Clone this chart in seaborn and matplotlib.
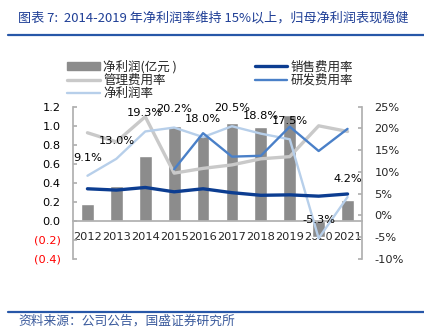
import numpy as np
import pandas as pd
import matplotlib
matplotlib.use("Agg")
import matplotlib.pyplot as plt
import seaborn as sns
from matplotlib.lines import Line2D

years = ["2012", "2013", "2014", "2015", "2016", "2017", "2018", "2019", "2020", "2021"]
net_profit = [0.18, 0.37, 0.68, 1.00, 0.89, 1.03, 0.99, 1.11, -0.17, 0.22]
mgmt_rate = [19.0, 16.9, 22.7, 9.7, 10.8, 11.6, 13.0, 13.5, 20.6, 19.3]
sales_rate = [6.1, 5.8, 6.4, 5.4, 6.1, 5.2, 4.6, 4.7, 4.4, 4.9]
rd_rate = [np.nan, np.nan, np.nan, 10.6, 18.9, 13.5, 13.7, 20.4, 14.8, 19.9]
net_margin = [9.1, 13.0, 19.3, 20.2, 18.0, 20.5, 18.8, 17.5, -5.3, 4.2]

left_ticks = [-0.4, -0.2, 0.0, 0.2, 0.4, 0.6, 0.8, 1.0, 1.2]
left_labels = ["(0.4)", "(0.2)", "0.0", "0.2", "0.4", "0.6", "0.8", "1.0", "1.2"]
right_ticks = [-10, -5, 0, 5, 10, 15, 20, 25]
right_labels = ["-10%", "-5%", "0%", "5%", "10%", "15%", "20%", "25%"]

title = "图表 7:  2014-2019 年净利润率维持 15%以上，归母净利润表现稳健"
source = "资料来源：公司公告，国盛证券研究所"
names = ["净利润(亿元 )", "管理费用率", "净利润率", "销售费用率", "研发费用率"]

sns.set_theme(style="white")
plt.rcParams["font.family"] = ["DejaVu Sans", "Noto Sans CJK SC"]

fig = plt.figure(figsize=(4.24, 3.35), dpi=100)
ax = fig.add_axes([73/424, 1-258.7/335, (362-73)/424, (258.7-106.7)/335])
ax2 = ax.twinx()

df = pd.DataFrame({"year": years, "np": net_profit, "mg": mgmt_rate, "sr": sales_rate,
                   "rd": rd_rate, "nm": net_margin})
df["pos"] = np.arange(len(years))

c_bar = "#8c8c8c"
c_mg = "#c9c9c9"
c_nm = "#b7cfea"
c_sr = "#0c3d91"
c_rd = "#4a80c8"

sns.barplot(data=df, x="year", y="np", ax=ax, color=c_bar, width=0.44, saturation=1)
ax.set_xlim(-0.5, len(years) - 0.5)
ax.set_ylim(-0.4, 1.2)

sns.lineplot(data=df, x="pos", y="mg", ax=ax2, color=c_mg, linewidth=2.4)
sns.lineplot(data=df, x="pos", y="nm", ax=ax2, color=c_nm, linewidth=1.7)
sns.lineplot(data=df, x="pos", y="sr", ax=ax2, color=c_sr, linewidth=2.4)
sns.lineplot(data=df, x="pos", y="rd", ax=ax2, color=c_rd, linewidth=1.7)
ax2.set_ylim(-10, 25)
ax2.set_xlim(-0.5, len(years) - 0.5)

for xi, v in zip(df["pos"], net_margin):
    ax2.annotate(f"{v:.1f}%", (xi, v), xytext=(0, 13), textcoords="offset points",
                 ha="center", va="center", fontsize=8.2, color="black")

spine_c = "#b0b0b0"
for a in (ax, ax2):
    for s in a.spines.values():
        s.set_visible(False)
ax.spines["left"].set_visible(True)
ax.spines["left"].set_color(spine_c)
ax2.spines["right"].set_visible(True)
ax2.spines["right"].set_color(spine_c)
ax.spines["bottom"].set_visible(True)
ax.spines["bottom"].set_position(("data", 0))
ax.spines["bottom"].set_color(spine_c)

ax.set_yticks(left_ticks)
ax.set_yticklabels(left_labels)
for t, v in zip(ax.get_yticklabels(), left_ticks):
    t.set_color("red" if v < 0 else "black")
ax.tick_params(axis="y", direction="in", length=3, color=spine_c, pad=9, labelsize=8.2, left=True)
ax2.set_yticks(right_ticks)
ax2.set_yticklabels(right_labels)
ax2.tick_params(axis="y", direction="in", length=3, color=spine_c, pad=9, labelsize=8.2, right=True)
ax.tick_params(axis="x", length=0, pad=8, labelsize=8.2)
ax.set_xlabel("")
ax.set_ylabel("")
ax2.set_xlabel("")
ax2.set_ylabel("")
ax.grid(False)
ax2.grid(False)

handles = [
    plt.Rectangle((0, 0), 1, 1, color=c_bar),
    Line2D([], [], color=c_mg, lw=2.4),
    Line2D([], [], color=c_nm, lw=1.7),
    Line2D([], [], color=c_sr, lw=2.4),
    Line2D([], [], color=c_rd, lw=1.7),
]
leg = fig.legend(handles, names, ncol=2, loc="upper left", bbox_to_anchor=(62/424, 1-55/335),
                 frameon=False, fontsize=9, handlelength=2.6, handleheight=0.55,
                 labelspacing=0.02, columnspacing=6.2, handletextpad=0.3, borderaxespad=0)
for t in leg.get_texts():
    t.set_family(["Noto Sans CJK SC", "DejaVu Sans"])

fig.text(18/424, 1-18/335, title, fontsize=9.45, color="#1f3f96", va="center", ha="left",
         style="italic", family=["Noto Sans CJK SC", "DejaVu Sans"])
fig.add_artist(Line2D([8/424, 1], [1-35/335, 1-35/335], color="#2757a8", lw=1.6))
fig.add_artist(Line2D([8/424, 1], [1-311.7/335, 1-311.7/335], color="#2757a8", lw=1.6))
fig.text(18/424, 1-321/335, source, fontsize=9.2, color="#3a5a9c", va="center", ha="left",
         style="italic", family=["Noto Sans CJK SC", "DejaVu Sans"])

fig.savefig("out.png", dpi=100)
